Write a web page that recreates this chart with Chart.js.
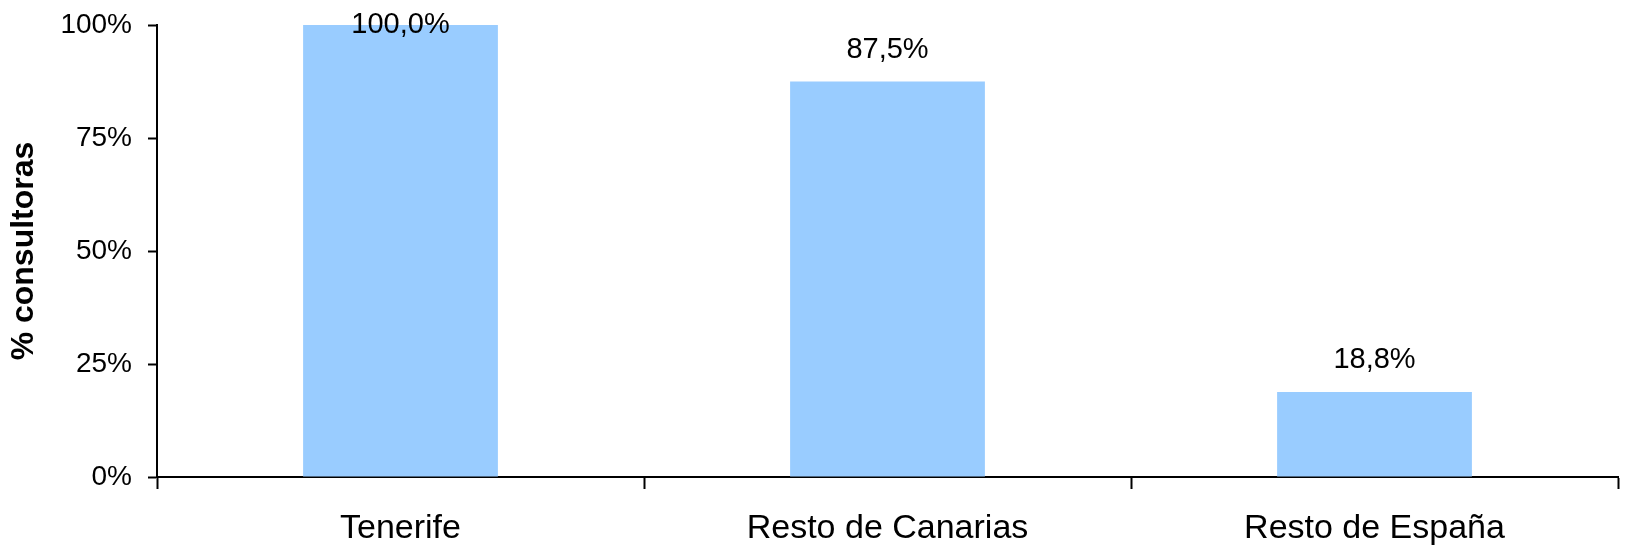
<!DOCTYPE html>
<html>
<head>
<meta charset="utf-8">
<script src="https://cdn.jsdelivr.net/npm/chart.js@4/dist/chart.umd.min.js"></script>
<style>
  html, body { margin: 0; padding: 0; background: #fff; }
  #wrap { width: 1626px; height: 548px; }
</style>
</head>
<body>
<div id="wrap"><canvas id="chart" width="1626" height="548"></canvas></div>
<script>
// data
const categories = ['Tenerife', 'Resto de Canarias', 'Resto de España'];
const shares = [100, 87.5, 18.8];
const yTicks = [0, 25, 50, 75, 100];

const FONT = '"Liberation Sans", Arial, sans-serif';

// value labels above each bar (comma decimals, clamped at the top)
const valueLabels = {
    id: 'valueLabels',
    afterDatasetsDraw(chart) {
        const ctx = chart.ctx;
        const meta = chart.getDatasetMeta(0);
        ctx.save();
        ctx.font = '29px ' + FONT;
        ctx.fillStyle = '#000';
        ctx.textAlign = 'center';
        ctx.textBaseline = 'alphabetic';
        meta.data.forEach((bar, i) => {
            const txt = shares[i].toFixed(1).replace('.', ',') + '%';
            const y = Math.max(bar.y - 24, chart.chartArea.top + 8);
            ctx.fillText(txt, bar.x, y);
        });
        ctx.restore();
    }
};

new Chart(document.getElementById('chart'), {
    type: 'bar',
    data: {
        labels: categories,
        datasets: [{
            data: shares,
            backgroundColor: '#99CCFF',
            borderWidth: 0,
            barPercentage: 0.4,
            categoryPercentage: 1
        }]
    },
    options: {
        responsive: false,
        devicePixelRatio: 1,
        animation: false,
        layout: { padding: { top: 25, right: 8, left: 0, bottom: 0 } },
        plugins: {
            legend: { display: false },
            tooltip: { enabled: false }
        },
        scales: {
            x: {
                grid: {
                    display: true,
                    offset: true,
                    drawOnChartArea: false,
                    drawTicks: true,
                    tickLength: 12,
                    tickWidth: 2,
                    tickColor: '#000'
                },
                border: { display: true, color: '#000', width: 2 },
                ticks: {
                    color: '#000',
                    font: { family: FONT, size: 34 },
                    padding: 19,
                    maxRotation: 0
                },
                afterFit(axis) {
                    axis.height = 71;
                    axis.paddingLeft = 0;
                    axis.paddingRight = 0;
                }
            },
            y: {
                min: 0,
                max: 100,
                afterBuildTicks(axis) {
                    axis.ticks = yTicks.map(v => ({ value: v }));
                },
                grid: {
                    display: true,
                    drawOnChartArea: false,
                    drawTicks: true,
                    tickLength: 9,
                    tickWidth: 2,
                    tickColor: '#000'
                },
                border: { display: true, color: '#000', width: 2 },
                ticks: {
                    color: '#000',
                    font: { family: FONT, size: 28 },
                    padding: 16,
                    callback: v => v + '%'
                },
                title: {
                    display: true,
                    text: '% consultoras',
                    color: '#000',
                    font: { family: FONT, size: 32, weight: 'bold' },
                    padding: { top: 5, bottom: 18 }
                },
                afterFit(axis) {
                    axis.width = 157;
                    axis.paddingTop = 0;
                    axis.paddingBottom = 0;
                }
            }
        }
    },
    plugins: [valueLabels]
});
</script>
</body>
</html>
